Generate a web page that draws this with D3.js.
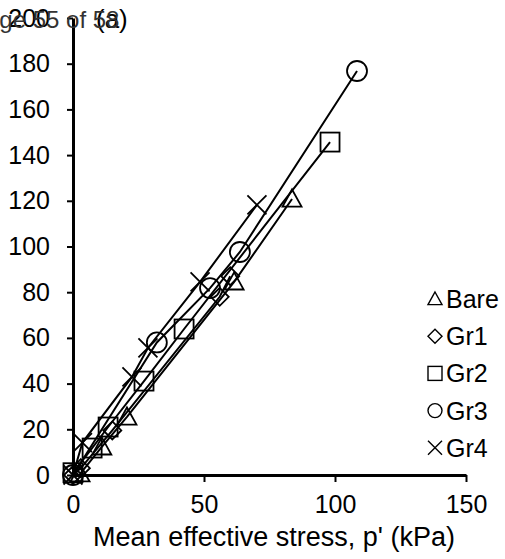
<!DOCTYPE html>
<html><head><meta charset="utf-8">
<script src="https://cdn.jsdelivr.net/npm/d3@7"></script>
<style>body{margin:0;background:#fff}svg{display:block}text{font-family:"Liberation Sans",Arial,sans-serif}</style>
</head><body>
<svg id="c" width="505" height="559"></svg>
<script>
const seriesNames = ["Bare","Gr1","Gr2","Gr3","Gr4"];
const bareData = [[2.7,0.5],[11,12.3],[20.6,25.4],[61.5,84.5],[83.6,120.8]];
const gr1Data = [[0,0],[3,3],[15,19.5],[56,78],[60,87]];
const gr2Data = [[0,1],[7.3,11.8],[13.4,21],[27.1,41.1],[42.4,63.9],[98.1,145.7]];
const gr3Data = [[0,0],[32,58],[52.3,81.8],[63.7,97.6],[108.4,176.8]];
const gr4Data = [[0,0],[3.6,14.2],[22.5,42.9],[28.6,55.6],[48.5,84.5],[70.2,118.2]];
const xTicks = [0,50,100,150];
const yTicks = [0,20,40,60,80,100,120,140,160,180,200];

const svg = d3.select("#c");
const x = d3.scaleLinear().domain([0,150]).range([73,466]);
const y = d3.scaleLinear().domain([0,200]).range([475,18]);

const symbols = {Bare:"tri",Gr1:"dia",Gr2:"sq",Gr3:"circ",Gr4:"x"};
const all = {Bare:bareData,Gr1:gr1Data,Gr2:gr2Data,Gr3:gr3Data,Gr4:gr4Data};

function drawSym(g, type, cx, cy, s, sw){
  const h = s/2;
  if(type==="circ") g.append("circle").attr("cx",cx).attr("cy",cy).attr("r",h).attr("fill","none").attr("stroke","#000").attr("stroke-width",sw);
  else if(type==="sq") g.append("rect").attr("x",cx-h).attr("y",cy-h).attr("width",s).attr("height",s).attr("fill","none").attr("stroke","#000").attr("stroke-width",sw);
  else if(type==="tri") g.append("path").attr("d",`M${cx},${cy-h}L${cx+h},${cy+h*0.8}L${cx-h},${cy+h*0.8}Z`).attr("fill","none").attr("stroke","#000").attr("stroke-width",sw);
  else if(type==="dia") g.append("path").attr("d",`M${cx},${cy-h}L${cx+h},${cy}L${cx},${cy+h}L${cx-h},${cy}Z`).attr("fill","none").attr("stroke","#000").attr("stroke-width",sw);
  else if(type==="x") g.append("path").attr("d",`M${cx-h},${cy-h}L${cx+h},${cy+h}M${cx+h},${cy-h}L${cx-h},${cy+h}`).attr("fill","none").attr("stroke","#000").attr("stroke-width",sw);
}

// lines
const line = d3.line().x(d=>x(d[0])).y(d=>y(d[1]));
seriesNames.forEach(n=>{
  svg.append("path").datum(all[n]).attr("d",line).attr("fill","none").attr("stroke","#000").attr("stroke-width",2);
});
// markers
const sizes = {tri:19,dia:18,sq:19,circ:20,x:19};
seriesNames.forEach(n=>{
  const g = svg.append("g");
  all[n].forEach(d=>drawSym(g, symbols[n], x(d[0]), y(d[1]), sizes[symbols[n]], 1.8));
});

// axes
const xAxis = svg.append("g").attr("transform","translate(0,475)")
  .call(d3.axisBottom(x).tickValues(xTicks).tickSize(7).tickSizeOuter(0).tickPadding(13));
const yAxis = svg.append("g").attr("transform","translate(73,0)")
  .call(d3.axisLeft(y).tickValues(yTicks).tickSize(6).tickSizeOuter(0).tickPadding(17));
[xAxis,yAxis].forEach(a=>{
  a.select(".domain").attr("stroke","#000").attr("stroke-width",3);
  a.selectAll(".tick line").attr("stroke","#000").attr("stroke-width",2);
  a.selectAll(".tick text").attr("font-size",25).attr("fill","#000").attr("font-family","Liberation Sans, Arial, sans-serif");
});
xAxis.selectAll(".tick").filter(d=>d===0).select("line").remove();

// legend
const lg = svg.append("g");
seriesNames.forEach((n,i)=>{
  const cy = 299 + i*37.2;
  drawSym(lg, symbols[n], 435, cy, 14, 1.4);
  lg.append("text").attr("x",446).attr("y",cy+9).attr("font-size",25).attr("fill","#000").text(n);
});

// titles
svg.append("text").attr("x",274).attr("y",546).attr("text-anchor","middle").attr("font-size",27).attr("fill","#000").text("Mean effective stress, p' (kPa)");
svg.append("text").attr("transform","translate(-5,340) rotate(-90)").attr("text-anchor","middle").attr("font-size",25).attr("fill","#000").text("Deviatoric stress, q (kPa)");
svg.append("text").attr("x",96).attr("y",28).attr("font-size",26).attr("fill","#000").text("(a)");
svg.append("text").attr("x",-30).attr("y",28).attr("font-size",24).attr("fill","#333").text("Page 55 of 58");
</script>
</body></html>
